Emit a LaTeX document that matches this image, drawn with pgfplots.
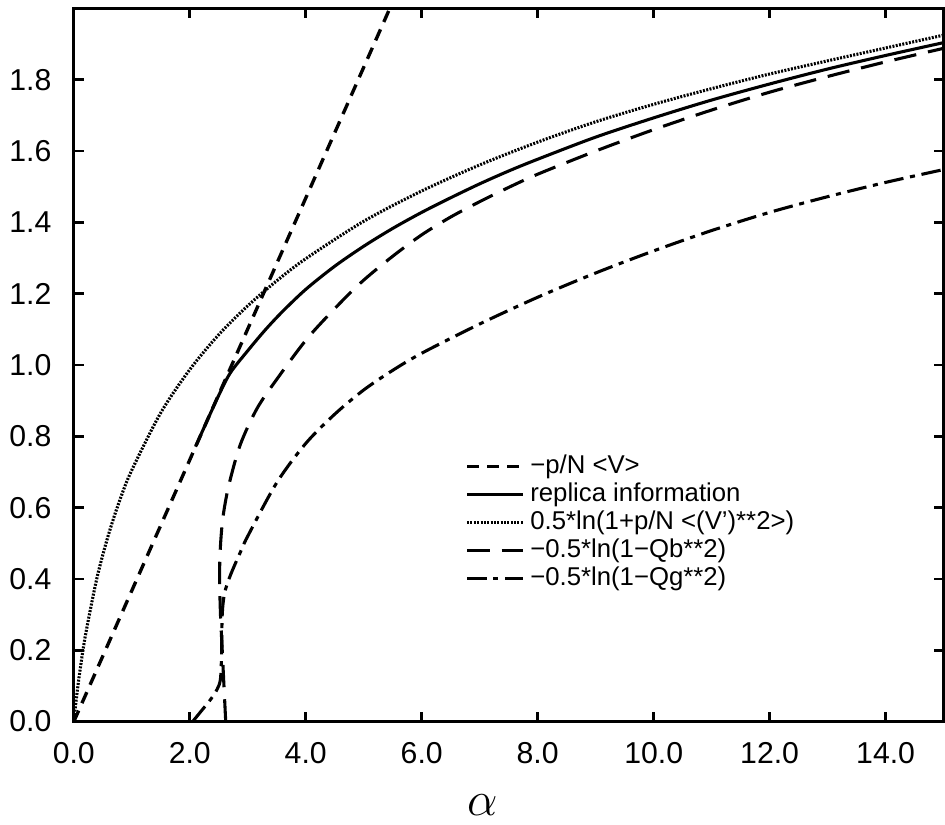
\documentclass[border=0pt]{standalone}
\usepackage{fontspec}
\setmainfont{Liberation Sans}
\usepackage{pgfplots}
\pgfplotsset{compat=1.18}

\begin{document}
\begin{tikzpicture}
\begin{axis}[
    scale only axis,
    width=311pt, height=255pt,
    xmin=0, xmax=15, ymin=0, ymax=2.0,
    xtick={0,2,...,14},
    ytick={0,0.2,0.4,0.6,0.8,1.0,1.2,1.4,1.6,1.8},
    tick align=inside,
    major tick length=3.6pt,
    axis line style={line width=1pt},
    every tick/.style={line width=0.9pt, black},
    tick label style={font=\fontsize{10.8}{12}\selectfont},
    xticklabel style={yshift=-4pt},
    yticklabel style={xshift=-4.5pt},
    /pgf/number format/.cd, fixed, zerofill, precision=1, assume math mode=true,
    /pgfplots/.cd,
    xlabel={\LARGE$\alpha$},
    xlabel style={at={(ticklabel cs:0.47)}, anchor=near ticklabel, yshift=-4pt},
    legend cell align=left,
    legend style={draw=none, fill=none, at={(rel axis cs:0.44,0.39)}, anchor=north west,
        font=\fontsize{9.2}{10}\selectfont, row sep=-2.2pt},
    legend image code/.code={\draw[#1] (0pt,0pt) -- (20pt,0pt);},
]

% -p/N <V>
\addplot[black, line width=1.2pt, dash pattern=on 4.3pt off 2.9pt] coordinates {
    (0,0) (5.45,2.0)
};
\addlegendentry{−p/N <V>}

% replica information
\addplot[black, line width=1.1pt, smooth] coordinates {
    (2.1,0.771) (2.3,0.844) (2.5,0.915) (2.7,0.978) (3.0,1.040) (3.3,1.098)
    (3.6,1.150) (4.0,1.212) (4.5,1.277) (5.0,1.333) (5.5,1.383) (6.0,1.428)
    (6.5,1.469) (7.0,1.508) (7.5,1.544) (8.0,1.577) (9.0,1.639) (10.0,1.693)
    (11.0,1.743) (12.0,1.788) (13.0,1.830) (14.0,1.868) (15.0,1.904)
};
\addlegendentry{replica information}

% 0.5*ln(1+p/N <(V')**2>)
\addplot[black, line width=1.1pt, dash pattern=on 0.7pt off 0.5pt, smooth] coordinates {
    (0,0) (0.02,0.03) (0.05,0.072) (0.1,0.135) (0.2,0.241) (0.4,0.403) (0.6,0.525)
    (0.8,0.624) (1.0,0.705) (1.5,0.866) (2.0,0.987) (2.5,1.085) (3.0,1.166)
    (3.5,1.236) (4.0,1.298) (5.0,1.403) (6.0,1.488) (7.0,1.561) (8.0,1.625)
    (9.0,1.682) (10.0,1.731) (11.0,1.775) (12.0,1.816) (13.0,1.853)
    (14.0,1.889) (15.0,1.925)
};
\addlegendentry{0.5*ln(1+p/N <(V')**2>)}

% -0.5*ln(1-Qb**2)
\addplot[black, line width=1.1pt, dash pattern=on 8pt off 4.3pt, smooth] coordinates {
    (2.62,0.0) (2.59,0.10) (2.56,0.20) (2.53,0.30) (2.515,0.40) (2.525,0.48)
    (2.57,0.57) (2.67,0.66) (2.87,0.776) (3.16,0.878) (3.51,0.962) (4.03,1.075)
    (4.6,1.175) (5.0,1.238) (5.5,1.305) (6.0,1.365) (6.5,1.415) (7.0,1.458)
    (7.5,1.498) (8.0,1.535) (9.0,1.600) (10.0,1.660) (11.0,1.715) (12.0,1.765)
    (13.0,1.809) (14.0,1.850) (15.0,1.888)
};
\addlegendentry{−0.5*ln(1−Qb**2)}

% -0.5*ln(1-Qg**2)
\addplot[black, line width=1.1pt, dash pattern=on 7pt off 2.4pt on 1.8pt off 2.4pt, smooth] coordinates {
    (2.05,0.0) (2.2,0.03) (2.35,0.06) (2.47,0.09) (2.53,0.12) (2.55,0.2)
    (2.56,0.3) (2.6,0.36) (2.7,0.41) (2.87,0.474) (3.0,0.52) (3.5,0.67)
    (4.0,0.78) (4.5,0.862) (5.0,0.93) (5.5,0.985) (6.0,1.033) (7.0,1.115)
    (8.0,1.19) (9.0,1.258) (10.0,1.32) (11.0,1.377) (12.0,1.428)
    (13.0,1.472) (14.0,1.512) (15.0,1.548)
};
\addlegendentry{−0.5*ln(1−Qg**2)}

\end{axis}
\path ([yshift=3pt]current axis.north);
\end{tikzpicture}
\end{document}
